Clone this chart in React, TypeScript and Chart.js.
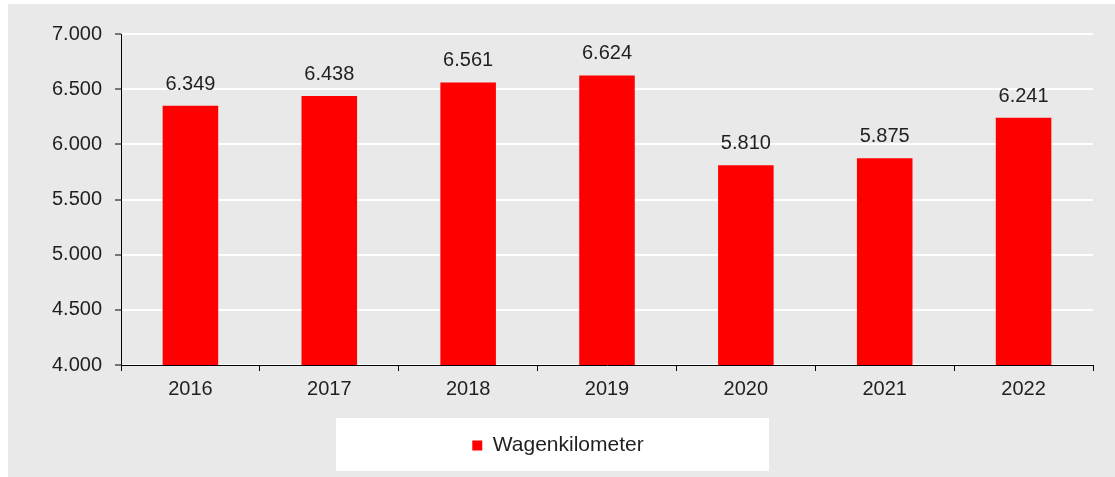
import React, { useEffect, useRef } from "react";
import { Chart, registerables } from "chart.js";

Chart.register(...registerables);

const categories = ["2016", "2017", "2018", "2019", "2020", "2021", "2022"];
const wagenkilometer = [6349, 6438, 6561, 6624, 5810, 5875, 6241];
const seriesLabel = "Wagenkilometer";
const yMin = 4000;
const yMax = 7000;
const yStep = 500;

const FONT = "'Liberation Sans', Arial, Helvetica, sans-serif";
const TEXT = "#1f1f1f";

function fmt(v: number): string {
  const s = Math.round(v).toString();
  return s.replace(/\B(?=(\d{3})+(?!\d))/g, ".");
}

const W = 1107;
const H = 473;

export default function App() {
  const ref = useRef<HTMLCanvasElement | null>(null);

  useEffect(() => {
    if (!ref.current) return;

    const legendBox = {
      id: "legendBox",
      beforeDraw(chart: any) {
        const ctx = chart.ctx;
        ctx.save();
        ctx.fillStyle = "#ffffff";
        ctx.fillRect(328, 414, 433, 53);
        ctx.restore();
      },
    };

    const valueLabels = {
      id: "valueLabels",
      afterDatasetsDraw(chart: any) {
        const ctx = chart.ctx;
        ctx.save();
        ctx.font = `20px ${FONT}`;
        ctx.fillStyle = TEXT;
        ctx.textAlign = "center";
        ctx.textBaseline = "alphabetic";
        chart.data.datasets.forEach((ds: any, di: number) => {
          const meta = chart.getDatasetMeta(di);
          meta.data.forEach((bar: any, i: number) => {
            ctx.fillText(fmt(ds.data[i]), bar.x, bar.y - 16);
          });
        });
        ctx.restore();
      },
    };

    const chart = new Chart(ref.current, {
      type: "bar",
      data: {
        labels: categories,
        datasets: [
          {
            label: seriesLabel,
            data: wagenkilometer,
            backgroundColor: "#ff0000",
            borderWidth: 0,
            barPercentage: 0.4,
            categoryPercentage: 1,
          },
        ],
      },
      options: {
        responsive: false,
        animation: false,
        devicePixelRatio: 1,
        layout: { padding: { left: 15, right: 22, top: 30, bottom: 11 } },
        plugins: {
          tooltip: { enabled: false },
          legend: {
            display: true,
            position: "bottom",
            labels: {
              boxWidth: 10,
              boxHeight: 10,
              padding: 10,
              color: TEXT,
              font: { family: FONT, size: 21 },
            },
          },
        },
        scales: {
          x: {
            offset: true,
            grid: {
              display: true,
              offset: true,
              drawOnChartArea: false,
              drawTicks: true,
              tickLength: 6,
              tickColor: "#000000",
              tickWidth: 1,
            },
            border: { display: true, color: "#000000", width: 1 },
            ticks: {
              color: TEXT,
              font: { family: FONT, size: 20 },
              padding: 6,
            },
            afterFit: (scale: any) => {
              scale.height = 60;
            },
          },
          y: {
            min: yMin,
            max: yMax,
            grid: {
              color: "#ffffff",
              lineWidth: 2,
              drawTicks: true,
              tickLength: 6,
              tickColor: "#000000",
              tickWidth: 1,
            },
            border: { display: true, color: "#000000", width: 1 },
            ticks: {
              stepSize: yStep,
              color: TEXT,
              font: { family: FONT, size: 20 },
              padding: 13,
              callback: (v: any) => fmt(Number(v)),
            },
            afterFit: (scale: any) => {
              scale.width = 98;
            },
          },
        },
      },
      plugins: [legendBox, valueLabels],
    });

    return () => chart.destroy();
  }, []);

  return (
    <div
      style={{
        position: "absolute",
        left: 8,
        top: 4,
        width: W,
        height: H,
        background: "#e9e9e9",
      }}
    >
      <canvas ref={ref} width={W} height={H} style={{ display: "block" }} />
    </div>
  );
}
